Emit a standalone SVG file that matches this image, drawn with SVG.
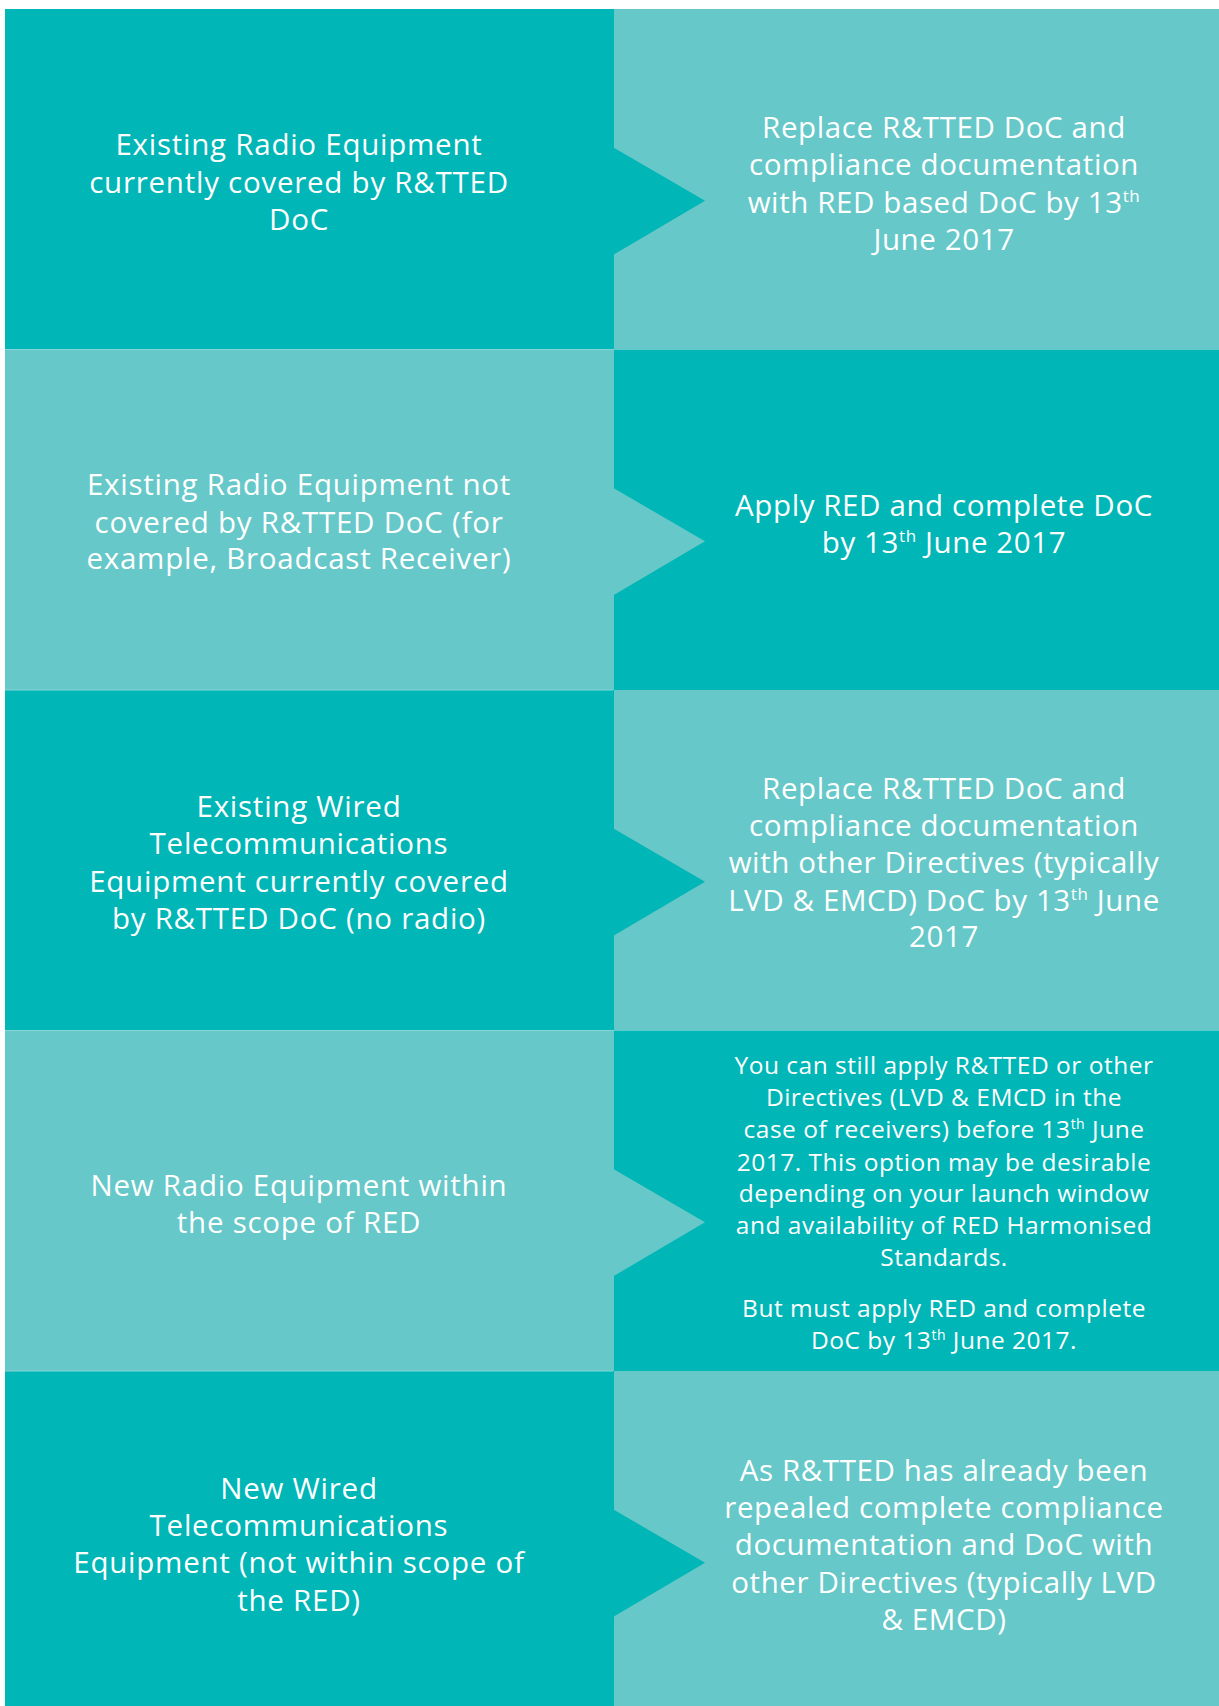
<svg xmlns="http://www.w3.org/2000/svg" width="1219" height="1706" viewBox="0 0 1219 1706">
<style>
.dark{fill:#00b6b6}
.light{fill:#66c8c8}
.sep{stroke:#86d6d6;stroke-width:1.2}
text{font-family:"Open Sans","Noto Sans","Liberation Sans",sans-serif;fill:#ffffff;text-anchor:middle;font-size:29.5px;letter-spacing:0.6px}
text.l{letter-spacing:0.75px}
text.sm{font-size:24.5px;letter-spacing:0.5px}
.sup{font-size:17px}
.sm .sup{font-size:14px}
</style>
<rect x="0" y="0" width="1219" height="1706" fill="#ffffff"/>
<g id="row1">
<g id="r1-right"><rect class="light" x="614" y="9" width="605" height="340.5"/>
<text x="944" y="137.7">Replace R&amp;TTED DoC and</text>
<text x="944" y="175">compliance documentation</text>
<text x="944" y="213">with RED based DoC by 13<tspan class="sup" dy="-11">th</tspan></text>
<text x="944" y="250">June 2017</text></g>
<g id="r1-left"><rect class="dark" x="5" y="9" width="609" height="340.5"/>
<text class="l" x="299" y="155">Existing Radio Equipment</text>
<text class="l" x="299" y="192.7">currently covered by R&amp;TTED</text>
<text class="l" x="299" y="229.5">DoC</text></g>
</g>
<g id="row2">
<g id="r2-right"><rect class="dark" x="614" y="349.5" width="605" height="340.5"/>
<text x="944" y="515.7">Apply RED and complete DoC</text>
<text x="944" y="552.7">by 13<tspan class="sup" dy="-11">th</tspan><tspan dy="11"> June 2017</tspan></text></g>
<g id="r2-left"><rect class="light" x="5" y="349.5" width="609" height="340.5"/>
<text class="l" x="299" y="495">Existing Radio Equipment not</text>
<text class="l" x="299" y="532.7">covered by R&amp;TTED DoC (for</text>
<text class="l" x="299" y="569.3">example, Broadcast Receiver)</text></g>
</g>
<g id="row3">
<g id="r3-right"><rect class="light" x="614" y="690" width="605" height="340.5"/>
<text x="944" y="799.3">Replace R&amp;TTED DoC and</text>
<text x="944" y="836">compliance documentation</text>
<text x="944" y="873.3">with other Directives (typically</text>
<text x="944" y="910.7">LVD &amp; EMCD) DoC by 13<tspan class="sup" dy="-11">th</tspan><tspan dy="11"> June</tspan></text>
<text x="944" y="947.3">2017</text></g>
<g id="r3-left"><rect class="dark" x="5" y="690" width="609" height="340.5"/>
<text class="l" x="299" y="816.7">Existing Wired</text>
<text class="l" x="299" y="854.3">Telecommunications</text>
<text class="l" x="299" y="891.7">Equipment currently covered</text>
<text class="l" x="299" y="929">by R&amp;TTED DoC (no radio)</text></g>
</g>
<g id="row4">
<g id="r4-right"><rect class="dark" x="614" y="1030.5" width="605" height="340.5"/>
<text class="sm" x="944" y="1074.3">You can still apply R&amp;TTED or other</text>
<text class="sm" x="944" y="1106">Directives (LVD &amp; EMCD in the</text>
<text class="sm" x="944" y="1138.3">case of receivers) before 13<tspan class="sup" dy="-9">th</tspan><tspan dy="9"> June</tspan></text>
<text class="sm" x="944" y="1170.7">2017. This option may be desirable</text>
<text class="sm" x="944" y="1202.3">depending on your launch window</text>
<text class="sm" x="944" y="1234.3">and availability of RED Harmonised</text>
<text class="sm" x="944" y="1266">Standards.</text>
<text class="sm" x="944" y="1316.7">But must apply RED and complete</text>
<text class="sm" x="944" y="1349">DoC by 13<tspan class="sup" dy="-9">th</tspan><tspan dy="9"> June 2017.</tspan></text></g>
<g id="r4-left"><rect class="light" x="5" y="1030.5" width="609" height="340.5"/>
<text class="l" x="299" y="1195.6">New Radio Equipment within</text>
<text class="l" x="299" y="1232.9">the scope of RED</text></g>
</g>
<g id="row5">
<g id="r5-right"><rect class="light" x="614" y="1371" width="605" height="335"/>
<text x="944" y="1480.6">As R&amp;TTED has already been</text>
<text x="944" y="1517.9">repealed complete compliance</text>
<text x="944" y="1555.2">documentation and DoC with</text>
<text x="944" y="1592.6">other Directives (typically LVD</text>
<text x="944" y="1629.9">&amp; EMCD)</text></g>
<g id="r5-left"><rect class="dark" x="5" y="1371" width="609" height="335"/>
<text class="l" x="299" y="1498.8">New Wired</text>
<text class="l" x="299" y="1536.1">Telecommunications</text>
<text class="l" x="299" y="1573.4">Equipment (not within scope of</text>
<text class="l" x="299" y="1610.7">the RED)</text></g>
</g>
<g id="connectors">
<polygon class="dark" points="613,147.3 705,200.7 613,255"/>
<polygon class="light" points="613,487.8 705,541.2 613,595.5"/>
<polygon class="dark" points="613,828.3 705,881.7 613,936"/>
<polygon class="light" points="613,1168.8 705,1222.2 613,1276.5"/>
<polygon class="dark" points="613,1509.3 705,1562.7 613,1617"/>
<line class="sep" x1="5" y1="349.5" x2="613" y2="349.5"/>
<line class="sep" x1="5" y1="690" x2="613" y2="690"/>
<line class="sep" x1="5" y1="1030.5" x2="613" y2="1030.5"/>
<line class="sep" x1="5" y1="1371" x2="613" y2="1371"/>
</g>
</svg>
